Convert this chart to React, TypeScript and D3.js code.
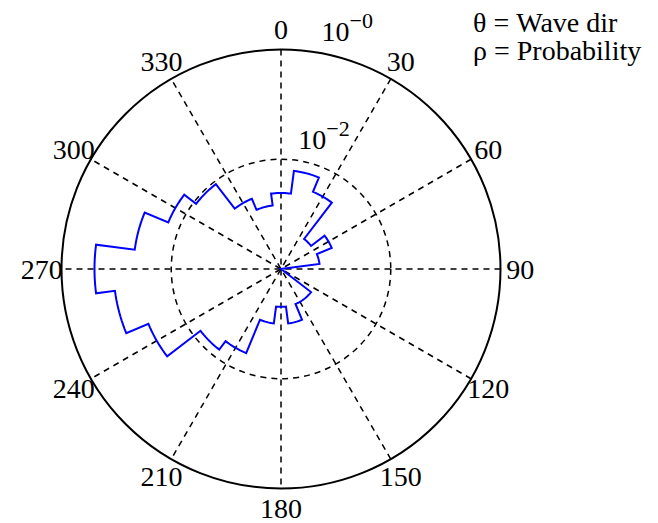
import React from "react";
import * as d3 from "d3";

// ---- data ----
const binCenters = [0, 15, 30, 45, 60, 75, 90, 105, 120, 135, 150, 165, 180, 195, 210, 225, 240, 255, 270, 285, 300, 315, 330, 345];
const probability = [0.00243, 0.00637, 0.00333, 0.00049, 0.001, 0.00051, 0, 0, 0, 0.00049, 0.00049, 0.001, 0.00049, 0.001, 0.00455, 0.00708, 0.0412, 0.1127, 0.2506, 0.0488, 0.0167, 0.00891, 0.00243, 0.00147];
const binWidth = 15;
const thetaTicks = [0, 30, 60, 90, 120, 150, 180, 210, 240, 270, 300, 330];
const rTicks = [1e-2, 1];
const rTickExponents = ["\u22122", "\u22120"];
const legendLines = ["\u03b8 = Wave dir", "\u03c1 = Probability"];

const W = 658;
const H = 523;
const cx = 281;
const cy = 269;
const R = 219.5;
const FONT = "'Liberation Serif', 'Times New Roman', serif";

const rad = (deg: number) => (deg * Math.PI) / 180;

export default function App() {
  const rScale = d3.scaleLog().domain([1e-4, 1]).range([0, R]).clamp(true);
  const rOf = (p: number) => (p > 0 ? rScale(p) : 0);

  const pts: { a: number; r: number }[] = [];
  const n = 10;
  binCenters.forEach((c, i) => {
    const r = rOf(probability[i]);
    for (let k = 0; k <= n; k++) {
      pts.push({ a: rad(c - binWidth / 2 + (binWidth * k) / n), r });
    }
  });
  const line = d3
    .lineRadial<{ a: number; r: number }>()
    .angle((d) => d.a)
    .radius((d) => d.r);
  const pathD = (line(pts) || "") + "Z";

  const spokes = thetaTicks.filter((t) => t < 180);
  const labelR = R * 1.09;

  return (
    <svg
      width={W}
      height={H}
      style={{ position: "absolute", left: 0, top: 0, background: "#fff" }}
      fontFamily={FONT}
    >
      <rect width={W} height={H} fill="#fff" />
      <g transform={`translate(${cx},${cy})`}>
        {spokes.map((t) => (
          <line
            key={t}
            x1={R * Math.sin(rad(t))}
            y1={-R * Math.cos(rad(t))}
            x2={-R * Math.sin(rad(t))}
            y2={R * Math.cos(rad(t))}
            stroke="#000"
            strokeWidth={1.5}
            strokeDasharray="6,5"
          />
        ))}
        {rTicks
          .filter((t) => t < 1)
          .map((t) => (
            <circle key={t} r={rScale(t)} fill="none" stroke="#000" strokeWidth={1.5} strokeDasharray="6,5" />
          ))}
        <circle r={R} fill="none" stroke="#000" strokeWidth={2} />
        <path d={pathD} fill="none" stroke="#0000ff" strokeWidth={2} strokeLinejoin="miter" />
        {thetaTicks.map((t) => (
          <text
            key={t}
            x={labelR * Math.sin(rad(t))}
            y={-labelR * Math.cos(rad(t))}
            dy="0.34em"
            textAnchor="middle"
            fontSize={28}
            fill="#000"
          >
            {t}
          </text>
        ))}
        {rTicks.map((t, i) => {
          const rr = rScale(t) + 12;
          const ang = rad(i === 0 ? 8.2 : 10.1);
          return (
            <text key={t} x={rr * Math.sin(ang)} y={-rr * Math.cos(ang)} fontSize={28} fill="#000">
              10
              <tspan fontSize={22} dy={-13}>
                {rTickExponents[i]}
              </tspan>
            </text>
          );
        })}
      </g>
      {legendLines.map((s, i) => (
        <text key={s} x={473} y={32 + i * 28} fontSize={28} fill="#000">
          {s}
        </text>
      ))}
    </svg>
  );
}
